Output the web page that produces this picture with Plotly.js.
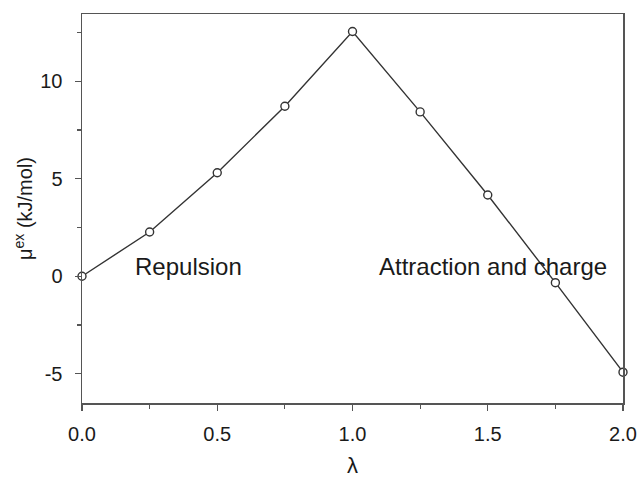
<!DOCTYPE html>
<html>
<head>
<meta charset="utf-8">
<script src="https://cdn.plot.ly/plotly-3.0.1.min.js"></script>
<style>
  html, body { margin: 0; padding: 0; background: #fff; }
  #chart { width: 637px; height: 478px; }
</style>
</head>
<body>
<div id="chart"></div>
<script>
// Coupling parameter lambda and excess chemical potential (kJ/mol)
const lambda = [0.0, 0.25, 0.5, 0.75, 1.0, 1.25, 1.5, 1.75, 2.0];
const muEx   = [0.0, 2.27, 5.31, 8.72, 12.55, 8.43, 4.17, -0.33, -4.92];

// Axis tick values and their labels (plain hyphen for negatives)
const xTickVals = [0, 0.5, 1.0, 1.5, 2.0];
const xTickText = ["0.0", "0.5", "1.0", "1.5", "2.0"];
const yTickVals = [-5, 0, 5, 10];
const yTickText = ["-5", "0", "5", "10"];

const regionLabels = ["Repulsion", "Attraction and charge"];
const regionLabelX = [0.19, 1.09];
const regionLabelY = [0.5, 0.5];

const axisColor = "#555";
const font = { family: "Liberation Sans, Arial, sans-serif", color: "#1a1a1a" };

const trace = {
  x: lambda,
  y: muEx,
  type: "scatter",
  mode: "lines+markers",
  line: { color: "#333", width: 1.4 },
  marker: {
    symbol: "circle",
    size: 8,
    color: "#fff",
    line: { color: "#333", width: 1.4 }
  },
  cliponaxis: false,
  hoverinfo: "x+y"
};

const annotations = regionLabels.map((t, i) => ({
  text: t,
  x: regionLabelX[i],
  y: regionLabelY[i],
  xref: "x",
  yref: "y",
  xanchor: "left",
  yanchor: "middle",
  showarrow: false,
  font: { ...font, size: 24 }
}));

const layout = {
  width: 637,
  height: 478,
  margin: { l: 82, r: 14, t: 14, b: 75 },
  paper_bgcolor: "#fff",
  plot_bgcolor: "#fff",
  showlegend: false,
  font: font,
  xaxis: {
    range: [0, 2],
    tickmode: "array",
    tickvals: xTickVals,
    ticktext: xTickText,
    ticks: "outside",
    ticklen: 6,
    tickwidth: 1.2,
    tickcolor: axisColor,
    minor: { tickmode: "linear", tick0: 0, dtick: 0.25, ticks: "outside", ticklen: 4, tickcolor: axisColor, tickwidth: 1.2 },
    showline: true,
    linecolor: axisColor,
    linewidth: 1.5,
    mirror: true,
    showgrid: false,
    zeroline: false,
    tickfont: { ...font, size: 20 },
    ticklabelstandoff: 6,
    title: { text: "λ", font: { ...font, size: 22 }, standoff: 15 }
  },
  yaxis: {
    range: [-6.5, 13.45],
    tickmode: "array",
    tickvals: yTickVals,
    ticktext: yTickText,
    ticks: "outside",
    ticklen: 6,
    tickwidth: 1.2,
    tickcolor: axisColor,
    minor: { tickmode: "linear", tick0: 0, dtick: 2.5, ticks: "outside", ticklen: 4, tickcolor: axisColor, tickwidth: 1.2 },
    showline: true,
    linecolor: axisColor,
    linewidth: 1.5,
    mirror: true,
    showgrid: false,
    zeroline: false,
    tickfont: { ...font, size: 20 },
    ticklabelstandoff: 8,
    title: { text: "μ<sup>ex</sup> (kJ/mol)", font: { ...font, size: 20 }, standoff: 2 }
  },
  annotations: annotations
};

Plotly.newPlot("chart", [trace], layout, { displayModeBar: false, staticPlot: true });
</script>
</body>
</html>
